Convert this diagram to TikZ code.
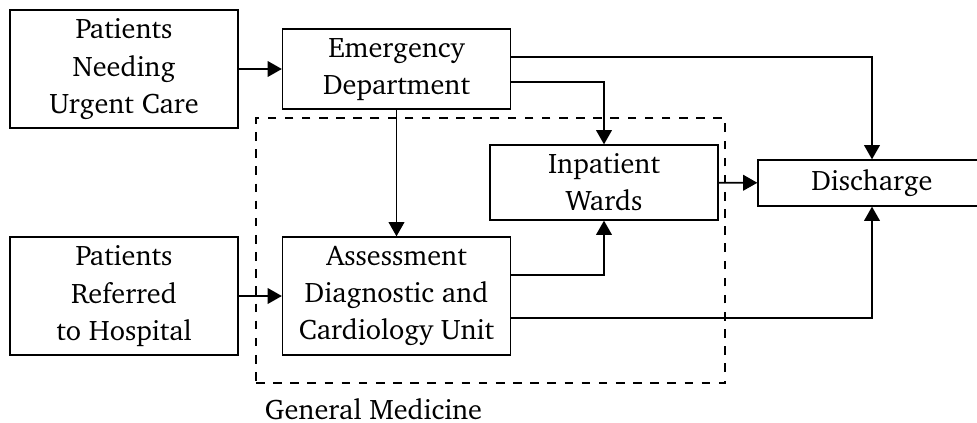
\documentclass[tikz,border=0pt]{standalone}
\usepackage[T1]{fontenc}
\usepackage{charter}
\usetikzlibrary{arrows.meta,positioning,fit}

\begin{document}
\begin{tikzpicture}[
    x=0.35pt, y=-0.35pt,
    font=\fontsize{9.9}{13}\selectfont,
    box/.style={rectangle, draw, line width=0.45pt, minimum width=79.8pt, align=center, inner sep=2pt},
    arrow/.style={-{Triangle[length=5pt, width=5.5pt]}, line width=0.6pt}
]
\clip (0,0) rectangle (977,423);

% Sources
\node[box, minimum height=41.3pt] (urgent) at (124,69) {Patients\\Needing\\Urgent Care};
\node[box, minimum height=41.3pt] (referred) at (124,296) {Patients\\Referred\\to Hospital};

% Hospital units
\node[box, minimum height=28pt] (ed) at (396.5,69) {Emergency\\Department};
\node[box, minimum height=41.3pt] (adcu) at (396.5,296) {Assessment\\Diagnostic and\\Cardiology Unit};
\node[box, minimum height=26.25pt] (wards) at (604,182.5) {Inpatient\\Wards};
\node[box, minimum height=16.1pt] (discharge) at (872,183) {Discharge};

% General Medicine
\coordinate (gmnw) at (256,118);
\coordinate (gmse) at (725,383);
\node[draw, dashed, line width=0.45pt, fit=(gmnw)(gmse), inner sep=0pt] (gm) {};
\node[anchor=base west, inner sep=0pt] (gmlabel) at ([xshift=3.15pt, yshift=-12.6pt]gm.south west) {General Medicine};

% Arrows
\draw[arrow] (urgent) -- (ed);
\draw[arrow] (referred) -- (adcu);
\draw[arrow] (ed) -- (adcu);
\draw[arrow] (wards) -- (discharge);
\draw[arrow] ([yshift=4.2pt]ed.east) -| (discharge);
\draw[arrow] ([yshift=-4.55pt]ed.east) -| (wards);
\draw[arrow] ([yshift=7.35pt]adcu.east) -| (wards);
\draw[arrow] ([yshift=-7.7pt]adcu.east) -| (discharge);

\end{tikzpicture}
\end{document}
